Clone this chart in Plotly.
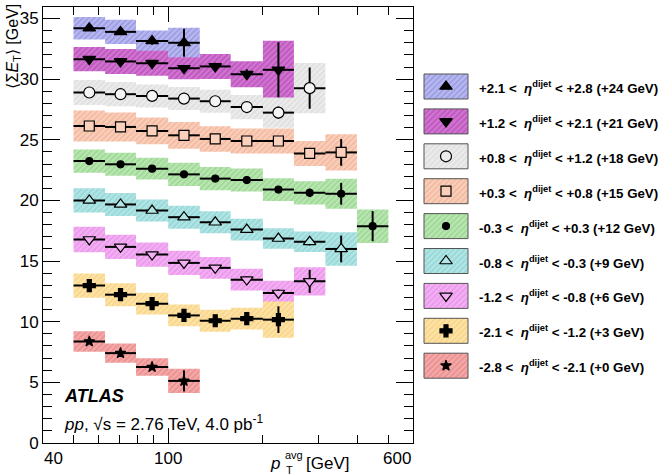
import math
import plotly.graph_objects as go

# ---------------- data ----------------
bin_edges = [50, 63, 79, 100, 126, 158, 200, 251, 316, 398, 501]

series_labels = [
    "+2.1 &lt;  <i>η</i><sup>dijet</sup> &lt; +2.8 (+24 GeV)",
    "+1.2 &lt;  <i>η</i><sup>dijet</sup> &lt; +2.1 (+21 GeV)",
    "+0.8 &lt;  <i>η</i><sup>dijet</sup> &lt; +1.2 (+18 GeV)",
    "+0.3 &lt;  <i>η</i><sup>dijet</sup> &lt; +0.8 (+15 GeV)",
    "-0.3 &lt;  <i>η</i><sup>dijet</sup> &lt; +0.3 (+12 GeV)",
    "-0.8 &lt;  <i>η</i><sup>dijet</sup> &lt; -0.3 (+9 GeV)",
    "-1.2 &lt;  <i>η</i><sup>dijet</sup> &lt; -0.8 (+6 GeV)",
    "-2.1 &lt;  <i>η</i><sup>dijet</sup> &lt; -1.2 (+3 GeV)",
    "-2.8 &lt;  <i>η</i><sup>dijet</sup> &lt; -2.1 (+0 GeV)",
]

# values (already shifted by the offset in the label)
y_a = [34.2, 33.9, 33.15, 33.0]
y_b = [31.65, 31.46, 31.32, 30.9, 31.05, 30.41, 30.77]
y_c = [28.9, 28.76, 28.62, 28.4, 28.18, 27.7, 27.24, 29.26]
y_d = [26.14, 26.06, 25.73, 25.37, 25.07, 24.9, 24.9, 23.88, 23.96]
y_e = [23.25, 22.98, 22.62, 22.15, 21.8, 21.68, 20.9, 20.63, 20.55, 17.88]
y_f = [20.0, 19.67, 19.17, 18.62, 18.2, 17.6, 16.86, 16.59, 16.0]
y_g = [16.78, 16.17, 15.54, 14.85, 14.44, 13.47, 12.37, 13.33]
y_h = [12.98, 12.23, 11.49, 10.52, 10.08, 10.25, 10.17]
y_i = [8.37, 7.41, 6.26, 5.12]

stat_a = [0.1, 0.15, 0.3, 1.15]
stat_b = [0.1, 0.1, 0.15, 0.25, 0.3, 0.4, 2.27]
stat_c = [0.1, 0.1, 0.1, 0.15, 0.2, 0.25, 0.5, 1.7]
stat_d = [0.1, 0.1, 0.1, 0.15, 0.2, 0.3, 0.35, 0.4, 1.1]
stat_e = [0.1, 0.1, 0.1, 0.1, 0.15, 0.2, 0.25, 0.35, 0.9, 1.24]
stat_f = [0.1, 0.1, 0.1, 0.15, 0.15, 0.2, 0.25, 0.3, 1.1]
stat_g = [0.1, 0.1, 0.1, 0.15, 0.2, 0.25, 0.3, 0.95]
stat_h = [0.2, 0.25, 0.25, 0.3, 0.3, 0.35, 1.1]
stat_i = [0.1, 0.1, 0.15, 0.87]

sys_a = [0.93, 1.0, 0.87, 1.24]
sys_b = [1.0, 1.03, 1.03, 0.9, 1.03, 1.07, 2.4]
sys_c = [1.03, 1.0, 0.95, 0.95, 0.95, 1.0, 1.24, 2.07]
sys_d = [1.27, 1.2, 1.1, 1.1, 1.05, 1.03, 1.03, 1.03, 1.5]
sys_e = [0.96, 0.95, 0.9, 0.95, 0.96, 0.95, 0.94, 0.96, 1.24, 1.38]
sys_f = [1.0, 0.95, 0.9, 0.95, 0.9, 0.9, 0.85, 0.85, 1.38]
sys_g = [1.05, 1.0, 1.0, 1.0, 0.9, 0.9, 1.0, 1.17]
sys_h = [1.0, 0.95, 0.9, 0.9, 0.9, 0.9, 1.5]
sys_i = [0.84, 0.8, 0.72, 1.0]

x_ticks = [40, 100, 600]
x_minor = [50, 60, 70, 80, 90, 200, 300, 400, 500]

# ---------------- styles ----------------
styles = [
    dict(symbol="triangle-up", size=11, mcolor="black", bg="#b9b9f0", fg="#7d7dd8"),
    dict(symbol="triangle-down", size=11, mcolor="black", bg="#d274d2", fg="#a83aa8"),
    dict(symbol="circle", size=11, mcolor="#f4f4f4", bg="#ececec", fg="#d2d2d2"),
    dict(symbol="square", size=10, mcolor="#fbd0bc", bg="#f9cfbb", fg="#eea282"),
    dict(symbol="circle", size=7, mcolor="black", bg="#b9e6b1", fg="#84c97a"),
    dict(symbol="triangle-up", size=11, mcolor="#b2e5e5", bg="#b2e5e5", fg="#7ccaca"),
    dict(symbol="triangle-down", size=11, mcolor="#f3b0f3", bg="#f3b0f3", fg="#e27fe2"),
    dict(symbol="cross", size=10, mcolor="black", bg="#fde3a8", fg="#f4c668"),
    dict(symbol="star", size=8, mcolor="black", bg="#f4aaaa", fg="#e27474"),
]

ys = [y_a, y_b, y_c, y_d, y_e, y_f, y_g, y_h, y_i]
stats = [stat_a, stat_b, stat_c, stat_d, stat_e, stat_f, stat_g, stat_h, stat_i]
syss = [sys_a, sys_b, sys_c, sys_d, sys_e, sys_f, sys_g, sys_h, sys_i]

fig = go.Figure()

# systematic boxes
for y, sy, st in zip(ys, syss, styles):
    bx, by = [], []
    for k, v in enumerate(y):
        lo, hi = bin_edges[k], bin_edges[k + 1]
        bx += [lo, hi, hi, lo, lo, None]
        by += [v - sy[k], v - sy[k], v + sy[k], v + sy[k], v - sy[k], None]
    fig.add_trace(go.Scatter(
        x=bx, y=by, mode="lines", fill="toself", line=dict(width=0),
        fillcolor=st["bg"],
        fillpattern=dict(shape="/", fgcolor=st["fg"], bgcolor=st["bg"], size=4, solidity=0.45),
        hoverinfo="skip", showlegend=False, xaxis="x", yaxis="y"))

# points with bin-width horizontal bars and statistical errors
for y, s, st in zip(ys, stats, styles):
    n = len(y)
    lo = bin_edges[:n]
    hi = bin_edges[1:n + 1]
    xc = [math.sqrt(a * b) for a, b in zip(lo, hi)]
    fig.add_trace(go.Scatter(
        x=xc, y=y, mode="markers",
        marker=dict(symbol=st["symbol"], size=st["size"], color=st["mcolor"],
                    line=dict(color="black", width=1.2)),
        error_x=dict(type="data", symmetric=False,
                     array=[b - c for b, c in zip(hi, xc)],
                     arrayminus=[c - a for a, c in zip(lo, xc)],
                     color="black", thickness=2, width=0),
        error_y=dict(type="data", array=s, color="black", thickness=2, width=0),
        showlegend=False, xaxis="x", yaxis="y"))

# ---------------- custom legend (second axis pair in pixel-like units) ----------------
row0, drow = 86.5, 34.9
for k, (lab, st) in enumerate(zip(series_labels, styles)):
    yc = row0 + k * drow
    fig.add_trace(go.Scatter(
        x=[424, 468, 468, 424, 424], y=[yc - 12.5, yc - 12.5, yc + 12.5, yc + 12.5, yc - 12.5],
        mode="lines", fill="toself", fillcolor=st["bg"],
        line=dict(color="#555555", width=1),
        fillpattern=dict(shape="/", fgcolor=st["fg"], bgcolor=st["bg"], size=4, solidity=0.45),
        hoverinfo="skip", showlegend=False, xaxis="x2", yaxis="y2"))
    fig.add_trace(go.Scatter(
        x=[446], y=[yc], mode="markers",
        marker=dict(symbol=st["symbol"], size=st["size"],
                    color=(st["bg"] if st["mcolor"] != "black" else "black"),
                    line=dict(color="black", width=1.2)),
        hoverinfo="skip", showlegend=False, xaxis="x2", yaxis="y2"))
    fig.add_annotation(x=477, y=yc + 1, xref="x2", yref="y2", text="<b>" + lab + "</b>",
                       showarrow=False, xanchor="left", yanchor="middle",
                       font=dict(size=13.3, color="black", family="Liberation Sans, Arial"))

main_w = 370 / 615.0
fig.update_layout(
    width=658, height=475, autosize=False,
    margin=dict(l=43, r=0, t=7, b=32, pad=0),
    paper_bgcolor="white", plot_bgcolor="white",
    font=dict(family="Liberation Sans, Arial", color="black", size=17),
    xaxis=dict(type="log", domain=[0, main_w], range=[math.log10(40), math.log10(600)],
               tickmode="array", tickvals=x_ticks, ticktext=["", "100", ""],
               ticks="inside", ticklen=15, tickwidth=1, tickcolor="black",
               showline=True, linecolor="black", linewidth=1, mirror="allticks",
               showgrid=False, zeroline=False,
               minor=dict(tickmode="array", tickvals=x_minor, ticks="inside",
                          ticklen=8, tickcolor="black", showgrid=False),
               tickfont=dict(size=17)),
    yaxis=dict(range=[0, 35.95], tickmode="linear", tick0=0, dtick=5,
               ticks="inside", ticklen=17, tickwidth=1, tickcolor="black",
               showline=True, linecolor="black", linewidth=1, mirror="allticks",
               showgrid=False, zeroline=False,
               minor=dict(dtick=1, ticks="inside", ticklen=9, tickcolor="black", showgrid=False),
               tickfont=dict(size=17)),
    xaxis2=dict(domain=[main_w, 1], range=[413, 658], visible=False, anchor="y2"),
    yaxis2=dict(domain=[0, 1], range=[443, 7], visible=False, anchor="x2"),
)

H = 436.0
W = 615.0
def px(xp):
    return (xp - 43) / W
def py(yp):
    return (443 - yp) / H

# edge tick labels, nudged inwards as in the reference
fig.add_annotation(x=math.log10(x_ticks[0]), y=py(458), xref="x", yref="paper",
                   text=str(x_ticks[0]), showarrow=False, xanchor="center", yanchor="middle",
                   xshift=10, font=dict(size=17))
fig.add_annotation(x=math.log10(x_ticks[-1]), y=py(458), xref="x", yref="paper",
                   text=str(x_ticks[-1]), showarrow=False, xanchor="center", yanchor="middle",
                   xshift=-16, font=dict(size=17))

# ATLAS label
fig.add_annotation(x=px(62), y=py(395.5), xref="paper", yref="paper",
                   text="<b><i>ATLAS</i></b>", showarrow=False,
                   xanchor="left", yanchor="middle", font=dict(size=18))
fig.add_annotation(x=px(62), y=py(423), xref="paper", yref="paper",
                   text="<i>pp</i>, √s = 2.76 TeV, 4.0 pb<sup>-1</sup>", showarrow=False,
                   xanchor="left", yanchor="middle", font=dict(size=17))

# y axis title
fig.add_annotation(x=px(13), y=py(2), xref="paper", yref="paper",
                   text="⟨Σ<i>E</i><sub>T</sub>⟩ [GeV]", textangle=-90, showarrow=False,
                   xanchor="center", yanchor="top", font=dict(size=16))

# x axis title (stacked sub/superscript built from pieces)
fig.add_annotation(x=px(282), y=py(463), xref="paper", yref="paper",
                   text="<i>p</i>", showarrow=False, xanchor="right", yanchor="middle",
                   font=dict(size=17))
fig.add_annotation(x=px(283), y=py(455), xref="paper", yref="paper",
                   text="avg", showarrow=False, xanchor="left", yanchor="middle",
                   font=dict(size=11))
fig.add_annotation(x=px(284), y=py(470), xref="paper", yref="paper",
                   text="T", showarrow=False, xanchor="left", yanchor="middle",
                   font=dict(size=11))
fig.add_annotation(x=px(351), y=py(463), xref="paper", yref="paper",
                   text="[GeV]", showarrow=False, xanchor="right", yanchor="middle",
                   font=dict(size=17))

fig.write_html(
    "out.html",
    config={"responsive": False, "displayModeBar": False},
    post_script="document.documentElement.style.overflow='hidden';"
                "document.body.style.overflow='hidden';document.body.style.margin='0';",
)
